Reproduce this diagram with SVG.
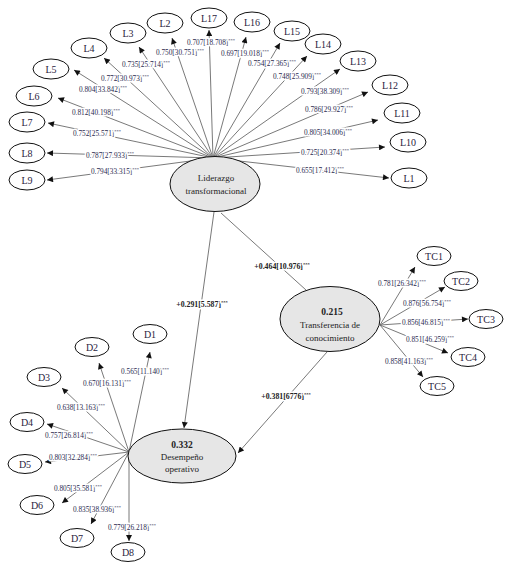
<svg xmlns="http://www.w3.org/2000/svg" width="512" height="572" viewBox="0 0 512 572">
<defs>
<marker id="ah" viewBox="0 0 10 10" refX="10" refY="5" markerWidth="7" markerHeight="6" markerUnits="userSpaceOnUse" orient="auto"><path d="M0,0 L10,5 L0,10 z" fill="#111"/></marker>
<style>
.ln{stroke:#6a6a6a;stroke-width:0.9;fill:none}
.ar{marker-end:url(#ah)}
.ind{fill:#fff;stroke:#111;stroke-width:1}
.lat{fill:#e6e6e6;stroke:#111;stroke-width:1}
.it{font-family:"Liberation Serif",serif;font-size:10px;fill:#2a2440;text-anchor:middle}
.nt{font-family:"Liberation Serif",serif;font-size:9px;fill:#222;text-anchor:middle}
.nb{font-family:"Liberation Serif",serif;font-size:9.5px;font-weight:bold;fill:#222;text-anchor:middle}
.lb{font-family:"Liberation Serif",serif;font-size:7.3px;fill:#2a2a50;text-anchor:middle;stroke:#fff;stroke-width:3;paint-order:stroke;stroke-linejoin:round}
.sb{font-family:"Liberation Serif",serif;font-size:7.8px;font-weight:bold;fill:#222;text-anchor:middle;stroke:#fff;stroke-width:3;paint-order:stroke;stroke-linejoin:round}
.sup{font-size:4.5px}
</style>
</defs>
<rect width="512" height="572" fill="#fff"/>
<g id="connectors">
<line class="ln ar" x1="213" y1="158" x2="389" y2="178"/>
<line class="ln ar" x1="213" y1="158" x2="385" y2="147"/>
<line class="ln ar" x1="213" y1="158" x2="378" y2="120"/>
<line class="ln ar" x1="213" y1="158" x2="368" y2="92"/>
<line class="ln ar" x1="213" y1="158" x2="340" y2="69"/>
<line class="ln ar" x1="213" y1="158" x2="307" y2="56"/>
<line class="ln ar" x1="213" y1="158" x2="280" y2="43"/>
<line class="ln ar" x1="213" y1="158" x2="246" y2="37"/>
<line class="ln ar" x1="213" y1="158" x2="209" y2="30"/>
<line class="ln ar" x1="213" y1="158" x2="172" y2="38"/>
<line class="ln ar" x1="213" y1="158" x2="139" y2="47"/>
<line class="ln ar" x1="213" y1="158" x2="104" y2="58"/>
<line class="ln ar" x1="213" y1="158" x2="74" y2="70"/>
<line class="ln ar" x1="213" y1="158" x2="58" y2="98"/>
<line class="ln ar" x1="213" y1="158" x2="48" y2="123"/>
<line class="ln ar" x1="213" y1="158" x2="47" y2="153"/>
<line class="ln ar" x1="213" y1="158" x2="47" y2="180"/>
<line class="ln ar" x1="380" y1="325" x2="415" y2="267"/>
<line class="ln ar" x1="380" y1="325" x2="445" y2="287"/>
<line class="ln ar" x1="380" y1="325" x2="468" y2="319"/>
<line class="ln ar" x1="380" y1="325" x2="448" y2="353"/>
<line class="ln ar" x1="380" y1="325" x2="423" y2="377"/>
<line class="ln ar" x1="129" y1="452" x2="150" y2="352"/>
<line class="ln ar" x1="129" y1="452" x2="99" y2="363"/>
<line class="ln ar" x1="129" y1="452" x2="62" y2="388"/>
<line class="ln ar" x1="129" y1="452" x2="47" y2="424"/>
<line class="ln ar" x1="129" y1="452" x2="45" y2="462"/>
<line class="ln ar" x1="129" y1="452" x2="62" y2="503"/>
<line class="ln ar" x1="129" y1="452" x2="91" y2="524"/>
<line class="ln ar" x1="129" y1="452" x2="129" y2="541"/>
<line class="ln ar" x1="214" y1="212" x2="184" y2="428"/>
<line class="ln" x1="221" y1="213" x2="306" y2="290"/>
<line class="ln ar" x1="327" y1="352" x2="238" y2="453"/>
<text class="lb" x="320" y="173">0.655[17.412]<tspan class="sup" dy="-3">***</tspan></text>
<text class="lb" x="325" y="155">0.725[20.374]<tspan class="sup" dy="-3">***</tspan></text>
<text class="lb" x="328" y="135">0.805[34.006]<tspan class="sup" dy="-3">***</tspan></text>
<text class="lb" x="329" y="112">0.786[29.927]<tspan class="sup" dy="-3">***</tspan></text>
<text class="lb" x="325" y="94">0.793[38.309]<tspan class="sup" dy="-3">***</tspan></text>
<text class="lb" x="297" y="79">0.748[25.909]<tspan class="sup" dy="-3">***</tspan></text>
<text class="lb" x="272" y="66">0.754[27.365]<tspan class="sup" dy="-3">***</tspan></text>
<text class="lb" x="245" y="56">0.697[19.018]<tspan class="sup" dy="-3">***</tspan></text>
<text class="lb" x="211" y="45">0.707[18.708]<tspan class="sup" dy="-3">***</tspan></text>
<text class="lb" x="180" y="55">0.750[30.751]<tspan class="sup" dy="-3">***</tspan></text>
<text class="lb" x="146" y="67">0.735[25.714]<tspan class="sup" dy="-3">***</tspan></text>
<text class="lb" x="125" y="81">0.772[30.973]<tspan class="sup" dy="-3">***</tspan></text>
<text class="lb" x="103" y="92">0.804[33.842]<tspan class="sup" dy="-3">***</tspan></text>
<text class="lb" x="96" y="115">0.812[40.198]<tspan class="sup" dy="-3">***</tspan></text>
<text class="lb" x="97" y="136">0.752[25.571]<tspan class="sup" dy="-3">***</tspan></text>
<text class="lb" x="110" y="157.5">0.787[27.933]<tspan class="sup" dy="-3">***</tspan></text>
<text class="lb" x="115" y="173.5">0.794[33.315]<tspan class="sup" dy="-3">***</tspan></text>
<text class="lb" x="402" y="286">0.781[26.342]<tspan class="sup" dy="-3">***</tspan></text>
<text class="lb" x="427" y="306">0.876[56.754]<tspan class="sup" dy="-3">***</tspan></text>
<text class="lb" x="426" y="325">0.856[46.815]<tspan class="sup" dy="-3">***</tspan></text>
<text class="lb" x="430" y="342">0.851[46.259]<tspan class="sup" dy="-3">***</tspan></text>
<text class="lb" x="409" y="364">0.858[41.163]<tspan class="sup" dy="-3">***</tspan></text>
<text class="lb" x="145" y="374">0.565[11.140]<tspan class="sup" dy="-3">***</tspan></text>
<text class="lb" x="107" y="386">0.670[16.131]<tspan class="sup" dy="-3">***</tspan></text>
<text class="lb" x="81" y="410">0.638[13.163]<tspan class="sup" dy="-3">***</tspan></text>
<text class="lb" x="69" y="438">0.757[26.814]<tspan class="sup" dy="-3">***</tspan></text>
<text class="lb" x="73" y="460">0.803[32.284]<tspan class="sup" dy="-3">***</tspan></text>
<text class="lb" x="78" y="491">0.805[35.581]<tspan class="sup" dy="-3">***</tspan></text>
<text class="lb" x="97" y="512">0.835[38.936]<tspan class="sup" dy="-3">***</tspan></text>
<text class="lb" x="132" y="530">0.779[26.218]<tspan class="sup" dy="-3">***</tspan></text>
<text class="sb" x="282" y="269">+0.464[10.976]<tspan class="sup" dy="-3">***</tspan></text>
<text class="sb" x="202" y="307">+0.291[5.587]<tspan class="sup" dy="-3">***</tspan></text>
<text class="sb" x="286" y="399">+0.381[6776]<tspan class="sup" dy="-3">***</tspan></text>
</g>
<g id="liderazgo"><ellipse class="lat" cx="215" cy="184" rx="45" ry="27.5"/><text class="nt" x="216" y="181">Liderazgo</text><text class="nt" x="216" y="194">transformacional</text></g>
<g id="transferencia"><ellipse class="lat" cx="330" cy="319" rx="50" ry="32.5"/><text class="nb" x="332" y="315">0.215</text><text class="nt" x="330" y="328">Transferencia de</text><text class="nt" x="330" y="341">conocimiento</text></g>
<g id="desempeno"><ellipse class="lat" cx="182" cy="456" rx="54" ry="27"/><text class="nb" x="182" y="448">0.332</text><text class="nt" x="182" y="460">Desempeño</text><text class="nt" x="182" y="472">operativo</text></g>
<g id="L1"><ellipse class="ind" cx="409" cy="178" rx="18" ry="10"/><text class="it" x="409" y="181.5">L1</text></g>
<g id="L10"><ellipse class="ind" cx="408" cy="142" rx="18" ry="10"/><text class="it" x="408" y="145.5">L10</text></g>
<g id="L11"><ellipse class="ind" cx="402" cy="113" rx="18" ry="10"/><text class="it" x="402" y="116.5">L11</text></g>
<g id="L12"><ellipse class="ind" cx="390" cy="85" rx="18" ry="10"/><text class="it" x="390" y="88.5">L12</text></g>
<g id="L13"><ellipse class="ind" cx="358" cy="61" rx="18" ry="10"/><text class="it" x="358" y="64.5">L13</text></g>
<g id="L14"><ellipse class="ind" cx="323" cy="44" rx="18" ry="10"/><text class="it" x="323" y="47.5">L14</text></g>
<g id="L15"><ellipse class="ind" cx="292" cy="31" rx="18" ry="10"/><text class="it" x="292" y="34.5">L15</text></g>
<g id="L16"><ellipse class="ind" cx="252" cy="22" rx="18" ry="10"/><text class="it" x="252" y="25.5">L16</text></g>
<g id="L17"><ellipse class="ind" cx="209" cy="18" rx="18" ry="10"/><text class="it" x="209" y="21.5">L17</text></g>
<g id="L2"><ellipse class="ind" cx="165" cy="23" rx="18" ry="10"/><text class="it" x="165" y="26.5">L2</text></g>
<g id="L3"><ellipse class="ind" cx="128" cy="33" rx="18" ry="10"/><text class="it" x="128" y="36.5">L3</text></g>
<g id="L4"><ellipse class="ind" cx="89" cy="48" rx="18" ry="10"/><text class="it" x="89" y="51.5">L4</text></g>
<g id="L5"><ellipse class="ind" cx="51" cy="69" rx="18" ry="10"/><text class="it" x="51" y="72.5">L5</text></g>
<g id="L6"><ellipse class="ind" cx="34" cy="96" rx="18" ry="10"/><text class="it" x="34" y="99.5">L6</text></g>
<g id="L7"><ellipse class="ind" cx="27" cy="122" rx="18" ry="10"/><text class="it" x="27" y="125.5">L7</text></g>
<g id="L8"><ellipse class="ind" cx="27" cy="153" rx="18" ry="10"/><text class="it" x="27" y="156.5">L8</text></g>
<g id="L9"><ellipse class="ind" cx="27" cy="180" rx="18" ry="10"/><text class="it" x="27" y="183.5">L9</text></g>
<g id="TC1"><ellipse class="ind" cx="434" cy="256" rx="17" ry="9.5"/><text class="it" x="434" y="259.5">TC1</text></g>
<g id="TC2"><ellipse class="ind" cx="461" cy="281" rx="17" ry="9.5"/><text class="it" x="461" y="284.5">TC2</text></g>
<g id="TC3"><ellipse class="ind" cx="486" cy="319" rx="17" ry="9.5"/><text class="it" x="486" y="322.5">TC3</text></g>
<g id="TC4"><ellipse class="ind" cx="468" cy="357" rx="17" ry="9.5"/><text class="it" x="468" y="360.5">TC4</text></g>
<g id="TC5"><ellipse class="ind" cx="437" cy="386" rx="17" ry="9.5"/><text class="it" x="437" y="389.5">TC5</text></g>
<g id="D1"><ellipse class="ind" cx="150" cy="334" rx="17" ry="9.5"/><text class="it" x="150" y="337.5">D1</text></g>
<g id="D2"><ellipse class="ind" cx="92" cy="347" rx="17" ry="9.5"/><text class="it" x="92" y="350.5">D2</text></g>
<g id="D3"><ellipse class="ind" cx="44" cy="377" rx="17" ry="9.5"/><text class="it" x="44" y="380.5">D3</text></g>
<g id="D4"><ellipse class="ind" cx="27" cy="422" rx="17" ry="9.5"/><text class="it" x="27" y="425.5">D4</text></g>
<g id="D5"><ellipse class="ind" cx="25" cy="464" rx="17" ry="9.5"/><text class="it" x="25" y="467.5">D5</text></g>
<g id="D6"><ellipse class="ind" cx="37" cy="505" rx="17" ry="9.5"/><text class="it" x="37" y="508.5">D6</text></g>
<g id="D7"><ellipse class="ind" cx="77" cy="538" rx="17" ry="9.5"/><text class="it" x="77" y="541.5">D7</text></g>
<g id="D8"><ellipse class="ind" cx="128" cy="552" rx="17" ry="9.5"/><text class="it" x="128" y="555.5">D8</text></g>
</svg>
